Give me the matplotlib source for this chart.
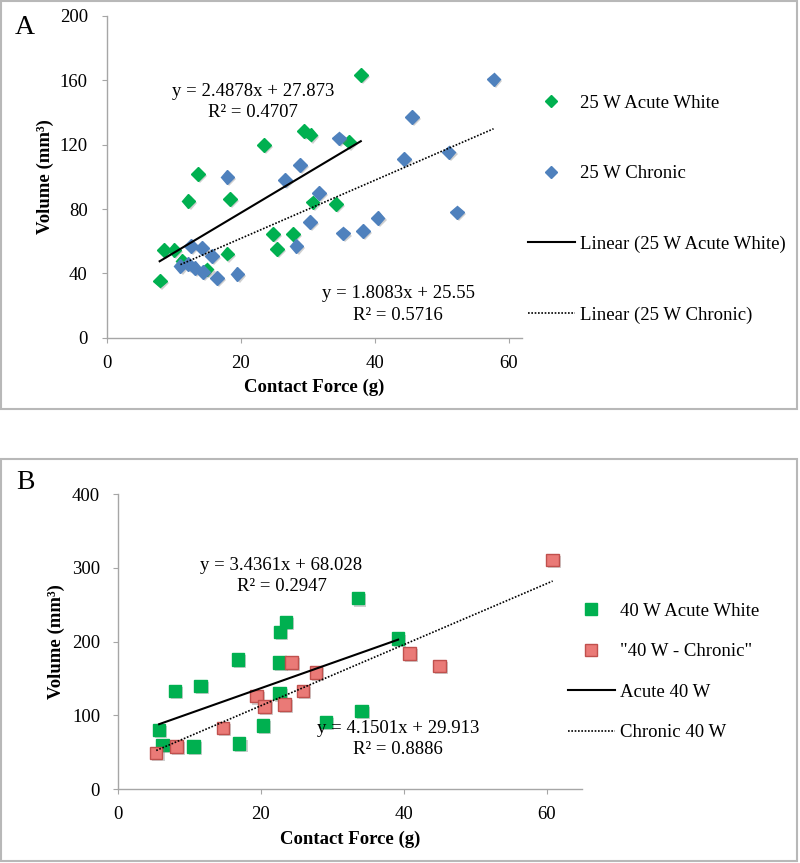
import matplotlib
matplotlib.use("Agg")
import matplotlib.pyplot as plt
import matplotlib.patheffects as pe
from matplotlib.lines import Line2D
from matplotlib.patches import Rectangle
import numpy as np

# ---- panel A: 25 W ----
a_acute_x = [7.9, 8.5, 10.1, 11.3, 12.2, 13.6, 14.9, 18.0, 18.4, 23.5, 24.8, 25.4,
             27.8, 29.4, 30.4, 30.7, 34.2, 36.1, 37.9]
a_acute_y = [35.5, 54.5, 54.7, 47.8, 85.0, 101.8, 42.4, 52.3, 86.3, 119.9, 64.5, 55.1,
             64.5, 128.4, 126.3, 84.1, 82.9, 121.9, 163.3]
a_chronic_x = [11.0, 12.2, 12.6, 13.1, 14.2, 14.4, 15.7, 16.4, 18.0, 19.5, 26.6, 28.3,
               28.8, 30.3, 31.7, 34.6, 35.3, 38.2, 40.4, 44.3, 45.5, 51.0, 52.2, 57.7]
a_chronic_y = [44.5, 46.0, 57.0, 43.5, 55.8, 41.0, 50.6, 37.0, 100.0, 39.5, 98.2, 57.2,
               107.6, 72.0, 89.8, 123.9, 64.8, 66.5, 74.4, 110.9, 137.4, 115.2, 77.9, 160.6]
a_fit_acute = (2.4878, 27.873)
a_fit_chronic = (1.8083, 25.55)

# ---- panel B: 40 W ----
b_acute_x = [5.8, 6.3, 8.0, 10.6, 11.6, 16.8, 17.0, 20.3, 22.7, 23.5, 22.6, 22.6,
             29.1, 33.6, 34.1, 39.2]
b_acute_y = [80, 60, 133, 57.5, 140, 176, 61.5, 86.5, 213, 227, 172, 130,
             91, 259, 106, 204]
b_chronic_x = [5.4, 8.2, 14.7, 19.4, 20.5, 23.3, 24.3, 25.9, 27.7, 40.8, 45.0, 60.8]
b_chronic_y = [49, 58, 83, 126, 112, 115, 172, 133, 158, 184, 167, 311]
b_fit_acute = (3.4361, 68.028)
b_fit_chronic = (4.1501, 29.913)

plt.rcParams['font.family'] = ['Liberation Serif', 'DejaVu Serif']
plt.rcParams['font.size'] = 13.5

W, H = 800, 863
fig = plt.figure(figsize=(W / 100, H / 100), dpi=100)

# grey frames round each panel
for (x0, y0, x1, y1) in [(1, 1, 797, 409), (1, 459, 797, 861)]:
    fig.patches.append(Rectangle((x0 / W, 1 - y1 / H), (x1 - x0) / W, (y1 - y0) / H,
                                 transform=fig.transFigure, fill=False,
                                 edgecolor='#b8b8b8', lw=1.5))

shadow = [pe.SimplePatchShadow(offset=(1.5, -1.5), shadow_rgbFace='#777777', alpha=0.35),
          pe.Normal()]


def px_axes(left, right, bottom, top):
    return fig.add_axes([left / W, 1 - bottom / H, (right - left) / W, (bottom - top) / H])


def style(ax, xmax, ymax, ystep, ypad):
    ax.set_xlim(0, xmax)
    ax.set_ylim(0, ymax)
    ax.set_xticks([0, 20, 40, 60])
    ax.set_yticks(np.arange(0, ymax + 1, ystep))
    for s in ['top', 'right']:
        ax.spines[s].set_visible(False)
    for s in ['left', 'bottom']:
        ax.spines[s].set_color('#a6a6a6')
        ax.spines[s].set_linewidth(1.0)
    ax.tick_params(axis='both', direction='out', length=3.6, color='#a6a6a6')
    ax.tick_params(axis='x', pad=8.9)
    ax.tick_params(axis='y', pad=ypad)
    ax.set_xlabel('Contact Force (g)', fontweight='bold', va='center')
    ax.set_ylabel('Volume (mm³)', fontweight='bold', va='center')


def trend(ax, fit, xs, ls, lw):
    xx = np.array([min(xs), max(xs)])
    ax.plot(xx, fit[0] * xx + fit[1], color='black', ls=ls, lw=lw)


# ---------- A ----------
axA = px_axes(106.7, 521.7, 337.7, 16)
style(axA, 61.9, 200, 40, 10)
axA.yaxis.set_label_coords(-0.149, 0.5)
axA.xaxis.set_label_coords(0.5, -0.155)
axA.plot(a_acute_x, a_acute_y, ls='none', marker='D', ms=7, color='#00b050',
         path_effects=shadow)
axA.plot(a_chronic_x, a_chronic_y, ls='none', marker='D', ms=7, color='#4f81bd',
         path_effects=shadow)
trend(axA, a_fit_acute, a_acute_x, '-', 1.5)
trend(axA, a_fit_chronic, a_chronic_x, (0, (1, 1)), 1.2)
axA.text(21.8, 153, 'y = 2.4878x + 27.873', ha='center', va='center')
axA.text(21.8, 140, 'R² = 0.4707', ha='center', va='center')
axA.text(43.5, 27.6, 'y = 1.8083x + 25.55', ha='center', va='center')
axA.text(43.5, 14.1, 'R² = 0.5716', ha='center', va='center')
fig.text(25 / W, 1 - 27 / H, 'A', fontsize=20, ha='center', va='center')

hA = [Line2D([], [], ls='none', marker='D', ms=6, color='#00b050'),
      Line2D([], [], ls='none', marker='D', ms=6, color='#4f81bd'),
      Line2D([], [], color='black', lw=1.5),
      Line2D([], [], color='black', lw=1.2, ls=(0, (1, 1)))]
fig.legend(hA, ['25 W Acute White', '25 W Chronic', 'Linear (25 W Acute White)',
                'Linear (25 W Chronic)'],
           loc='center left', bbox_to_anchor=(528 / W, 1 - 209 / H),
           bbox_transform=fig.transFigure, frameon=False, handlelength=2.5,
           handletextpad=0.3, labelspacing=2.85, borderpad=0, borderaxespad=0)

# ---------- B ----------
axB = px_axes(117.6, 582, 789, 494.3)
style(axB, 64.9, 400, 100, 9)
axB.yaxis.set_label_coords(-0.132, 0.5)
axB.xaxis.set_label_coords(0.5, -0.17)
axB.plot(b_acute_x, b_acute_y, ls='none', marker='s', ms=9, color='#00b050',
         path_effects=shadow)
axB.plot(b_chronic_x, b_chronic_y, ls='none', marker='s', ms=9, mfc='#ea7a77',
         mec='#c0504d', mew=1, path_effects=shadow)
trend(axB, b_fit_acute, b_acute_x, '-', 1.5)
trend(axB, b_fit_chronic, b_chronic_x, (0, (1, 1)), 1.2)
axB.text(22.9, 304, 'y = 3.4361x + 68.028', ha='center', va='center')
axB.text(22.9, 274.6, 'R² = 0.2947', ha='center', va='center')
axB.text(39.2, 82.4, 'y = 4.1501x + 29.913', ha='center', va='center')
axB.text(39.2, 53, 'R² = 0.8886', ha='center', va='center')
fig.text(25 / W, 1 - 482 / H, 'B', fontsize=20, ha='center', va='center')

hB = [Line2D([], [], ls='none', marker='s', ms=8.5, color='#00b050'),
      Line2D([], [], ls='none', marker='s', ms=8.5, mfc='#ea7a77', mec='#c0504d', mew=1),
      Line2D([], [], color='black', lw=1.5),
      Line2D([], [], color='black', lw=1.2, ls=(0, (1, 1)))]
fig.legend(hB, ['40 W Acute White', '"40 W - Chronic"', 'Acute 40 W', 'Chronic 40 W'],
           loc='center left', bbox_to_anchor=(568 / W, 1 - 672 / H),
           bbox_transform=fig.transFigure, frameon=False, handlelength=2.5,
           handletextpad=0.27, labelspacing=1.25, borderpad=0, borderaxespad=0)

fig.savefig('out.png', dpi=100)
plt.close()
